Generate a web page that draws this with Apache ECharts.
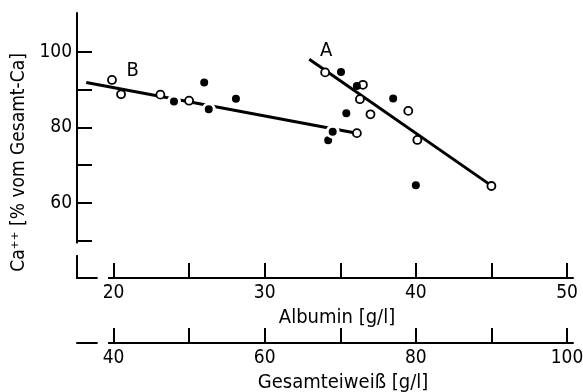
<!DOCTYPE html>
<html>
<head>
<meta charset="utf-8">
<script src="https://cdn.jsdelivr.net/npm/echarts@6/dist/echarts.min.js"></script>
<style>
  html, body { margin: 0; padding: 0; background: #fff; }
  #chart { width: 583px; height: 392px; }
</style>
</head>
<body>
<div id="chart"></div>
<script>
// Axis ticks and labels
const albuminTicks = [20, 25, 30, 35, 40, 45, 50];
const albuminLabels = [20, 30, 40, 50];
const proteinTicks = [40, 50, 60, 70, 80, 90, 100];
const proteinLabels = [40, 60, 80, 100];
const caTicks = [50, 60, 70, 80, 90, 100];
const caLabels = [60, 80, 100];

// Measurements: [albumin g/l, ionised Ca %]
const openA = [[34.0, 94.6], [36.5, 91.3], [36.3, 87.5], [37.0, 83.5], [39.5, 84.4], [40.1, 76.7], [45.0, 64.5]];
const filledA = [[35.05, 94.7], [36.1, 91.0], [35.4, 83.8], [38.5, 87.7], [40.0, 64.7]];
const openB = [[19.9, 92.6], [20.5, 88.8], [23.1, 88.7], [25.0, 87.1], [36.1, 78.5]];
const filledB = [[34.2, 76.6], [24.0, 86.9], [26.0, 91.9], [26.3, 84.8], [28.1, 87.6], [34.5, 78.9]];

// Regression lines
const lineA = [[32.95, 98.1], [45.0, 64.6]];
const lineB = [[18.2, 91.9], [36.1, 78.5]];

// Group labels
const groupLabels = [[34.1, 100.2, 'A'], [21.3, 94.8, 'B']];

const textFont = "'DejaVu Sans Condensed', sans-serif";
const ink = '#000';

const xMin = 17.585, xMax = 50.397;
const yMin = 40.13, yMax = 110.33;

const chart = echarts.init(document.getElementById('chart'), null, { renderer: 'canvas' });

const axisCommon = {
  type: 'value',
  splitLine: { show: false },
  axisLine: { show: true, lineStyle: { color: ink, width: 2 } },
  axisTick: { show: true, inside: true, length: 15, lineStyle: { color: ink, width: 2 } },
  axisLabel: { show: true, color: ink, fontFamily: textFont, fontSize: 19 },
  nameTextStyle: { color: ink, fontFamily: textFont, fontSize: 20 }
};

chart.setOption({
  animation: false,
  backgroundColor: '#fff',
  grid: { left: 77, right: 10, top: 13, bottom: 114, containLabel: false, outerBoundsMode: 'none' },
  xAxis: [
    Object.assign({}, axisCommon, {
      position: 'bottom',
      min: xMin, max: xMax,
      name: 'Albumin [g/l]',
      nameLocation: 'middle',
      nameGap: 30,
      nameTextStyle: Object.assign({}, axisCommon.nameTextStyle, { padding: [0, 0, 0, 24] }),
      axisTick: Object.assign({}, axisCommon.axisTick, { customValues: albuminTicks }),
      axisLabel: Object.assign({}, axisCommon.axisLabel, { customValues: albuminLabels, margin: 6 })
    }),
    Object.assign({}, axisCommon, {
      position: 'bottom',
      offset: 65,
      min: xMin * 2, max: xMax * 2,
      name: 'Gesamteiweiß [g/l]',
      nameLocation: 'middle',
      nameGap: 28,
      nameTextStyle: Object.assign({}, axisCommon.nameTextStyle, { padding: [0, 0, 0, 36] }),
      axisTick: Object.assign({}, axisCommon.axisTick, { customValues: proteinTicks }),
      axisLabel: Object.assign({}, axisCommon.axisLabel, { customValues: proteinLabels, margin: 6 })
    })
  ],
  yAxis: Object.assign({}, axisCommon, {
    min: yMin, max: yMax,
    name: 'Ca⁺⁺ [% vom Gesamt-Ca]',
    nameLocation: 'middle',
    nameGap: 39,
    nameTextStyle: { color: ink, fontFamily: textFont, fontSize: 19, padding: [0, 34, 0, 0] },
    axisTick: Object.assign({}, axisCommon.axisTick, { customValues: caTicks }),
    axisLabel: Object.assign({}, axisCommon.axisLabel, { customValues: caLabels, margin: 5 })
  }),
  series: [
    {
      name: 'Regression A', type: 'line', data: lineA, symbol: 'none', z: 2,
      lineStyle: { color: ink, width: 3 }
    },
    {
      name: 'Regression B', type: 'line', data: lineB, symbol: 'none', z: 2,
      lineStyle: { color: ink, width: 3 }
    },
    {
      name: 'A offen', type: 'scatter', data: openA, symbol: 'circle', symbolSize: 8, z: 3,
      itemStyle: { color: '#fff', borderColor: ink, borderWidth: 1.8, opacity: 1 }
    },
    {
      name: 'B offen', type: 'scatter', data: openB, symbol: 'circle', symbolSize: 8, z: 3,
      itemStyle: { color: '#fff', borderColor: ink, borderWidth: 1.8, opacity: 1 }
    },
    {
      name: 'A gefüllt', type: 'scatter', data: filledA, symbol: 'circle', symbolSize: 8, z: 3,
      itemStyle: { color: ink, opacity: 1 }
    },
    {
      // white ring keeps the regression line clear of the dots
      name: 'B gefüllt', type: 'scatter', data: filledB, symbol: 'circle', symbolSize: 11, z: 3,
      itemStyle: { color: ink, borderColor: '#fff', borderWidth: 3, opacity: 1 }
    },
    {
      name: 'Gruppen', type: 'scatter', data: groupLabels, symbolSize: 1, z: 4,
      itemStyle: { opacity: 0 },
      label: {
        show: true, position: [0, 0], align: 'center', verticalAlign: 'middle',
        color: ink, fontFamily: textFont, fontSize: 20, opacity: 1,
        formatter: p => p.value[2]
      }
    }
  ]
});

// Breaks in the axis lines near the origin
function axisBreaks() {
  const yBase = chart.convertToPixel({ yAxisIndex: 0 }, yMin);
  const xGapL = chart.convertToPixel({ xAxisIndex: 0 }, 18.95);
  const xGapR = chart.convertToPixel({ xAxisIndex: 0 }, 19.64);
  const yGapT = chart.convertToPixel({ yAxisIndex: 0 }, 49.3);
  const yGapB = chart.convertToPixel({ yAxisIndex: 0 }, 46.2);
  const xLeft = chart.convertToPixel({ xAxisIndex: 0 }, xMin);
  const offset2 = 65;
  chart.setOption({
    graphic: [
      { type: 'rect', z: 100, shape: { x: xGapL, y: yBase - 3, width: xGapR - xGapL, height: 6 }, style: { fill: '#fff' } },
      { type: 'rect', z: 100, shape: { x: xGapL, y: yBase + offset2 - 3, width: xGapR - xGapL, height: 6 }, style: { fill: '#fff' } },
      { type: 'rect', z: 100, shape: { x: xLeft - 3, y: yGapT, width: 6, height: yGapB - yGapT }, style: { fill: '#fff' } }
    ]
  });
}
axisBreaks();
</script>
</body>
</html>
